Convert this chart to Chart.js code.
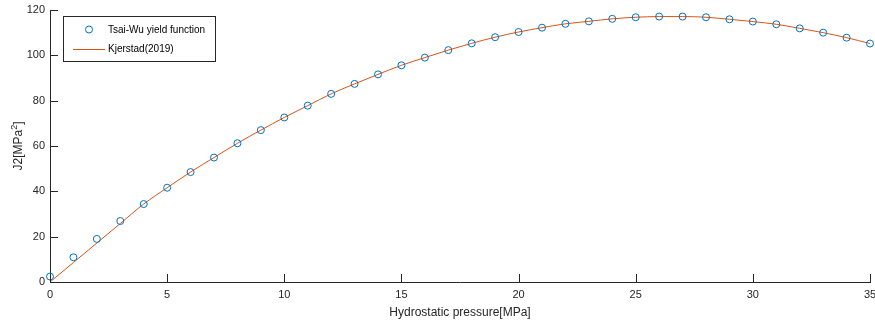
<!DOCTYPE html>
<html>
<head>
<meta charset="utf-8">
<script src="https://cdn.jsdelivr.net/npm/chart.js@4"></script>
<style>
  html, body { margin: 0; padding: 0; background: #fff; }
  #wrap { width: 875px; height: 322px; }
</style>
</head>
<body>
<div id="wrap"><canvas id="myChart" width="875" height="322"></canvas></div>
<script>
// hydrostatic pressure [MPa]
const pressure = [0, 1, 2, 3, 4, 5, 6, 7, 8, 9, 10, 11, 12, 13, 14, 15, 16, 17,
    18, 19, 20, 21, 22, 23, 24, 25, 26, 27, 28, 29, 30, 31, 32, 33, 34, 35];

// Tsai-Wu yield function, J2 [MPa^2]
const tsaiWu = [2.4, 10.9, 19.0, 26.9, 34.4, 41.6, 48.5, 54.9, 61.2, 67.0, 72.6, 77.8,
    83.0, 87.4, 91.6, 95.6, 99.0, 102.3, 105.3, 108.0, 110.3, 112.2, 113.9, 115.0,
    116.1, 116.8, 117.1, 117.1, 116.8, 115.9, 114.9, 113.7, 111.9, 110.0, 107.8, 105.2];

// Kjerstad(2019)
const kjerstad = [0, 8.6, 17.2, 25.8, 34.4, 41.6, 48.5, 54.9, 61.2, 67.0, 72.6, 77.8,
    83.0, 87.4, 91.6, 95.6, 99.0, 102.3, 105.3, 108.0, 110.3, 112.2, 113.9, 115.0,
    116.1, 116.8, 117.1, 117.1, 116.8, 115.9, 114.9, 113.7, 111.9, 110.0, 107.8, 105.2];

const xTicks = [0, 5, 10, 15, 20, 25, 30, 35];
const yTicks = [0, 20, 40, 60, 80, 100, 120];

const textColor = '#262626';
const fontFamily = '"Liberation Sans", Arial, Helvetica, sans-serif';

function toPoints(xs, ys) {
    let pts = [];
    for (let i = 0; i < xs.length; i++) {
        pts.push({ x: xs[i], y: ys[i] });
    }
    return pts;
}

// inward tick marks, y label with superscript, boxed legend
const matlabAxes = {
    id: 'matlabAxes',
    afterDraw(chart) {
        const ctx = chart.ctx;
        const xs = chart.scales.x;
        const ys = chart.scales.y;
        const area = chart.chartArea;

        ctx.save();
        ctx.strokeStyle = textColor;
        ctx.lineWidth = 1;
        ctx.beginPath();
        xTicks.forEach(v => {
            const px = Math.round(xs.getPixelForValue(v)) + 0.5;
            ctx.moveTo(px, area.bottom);
            ctx.lineTo(px, area.bottom - 8);
        });
        yTicks.forEach(v => {
            const py = Math.round(ys.getPixelForValue(v)) + 0.5;
            ctx.moveTo(area.left, py);
            ctx.lineTo(area.left + 8, py);
        });
        ctx.stroke();

        // y axis title: J2[MPa^2]
        ctx.fillStyle = textColor;
        ctx.translate(22, (area.top + area.bottom) / 2);
        ctx.rotate(-Math.PI / 2);
        ctx.textBaseline = 'alphabetic';
        const base = 'J2[MPa';
        ctx.font = '12px ' + fontFamily;
        const wBase = ctx.measureText(base).width;
        ctx.font = '9px ' + fontFamily;
        const wSup = ctx.measureText('2').width;
        ctx.font = '12px ' + fontFamily;
        const wEnd = ctx.measureText(']').width;
        let x0 = -(wBase + wSup + wEnd) / 2;
        ctx.textAlign = 'left';
        ctx.fillText(base, x0, 0);
        ctx.font = '9px ' + fontFamily;
        ctx.fillText('2', x0 + wBase, -5);
        ctx.font = '12px ' + fontFamily;
        ctx.fillText(']', x0 + wBase + wSup, 0);
        ctx.restore();

        // legend box
        const ds = chart.data.datasets;
        const bx = 63.5, by = 16.5, bw = 152, bh = 45;
        ctx.save();
        ctx.fillStyle = '#ffffff';
        ctx.fillRect(bx, by, bw, bh);
        ctx.strokeStyle = textColor;
        ctx.lineWidth = 1;
        ctx.strokeRect(bx, by, bw, bh);

        ctx.font = '10px ' + fontFamily;
        ctx.fillStyle = '#000000';
        ctx.textBaseline = 'middle';
        ctx.textAlign = 'left';

        // marker entry
        ctx.beginPath();
        ctx.strokeStyle = ds[0].borderColor;
        ctx.lineWidth = 1;
        ctx.arc(89, 29.5, 3.5, 0, Math.PI * 2);
        ctx.stroke();
        ctx.fillText(ds[0].label, 108, 30);

        // line entry
        ctx.beginPath();
        ctx.strokeStyle = ds[1].borderColor;
        ctx.moveTo(73, 49.5);
        ctx.lineTo(105, 49.5);
        ctx.stroke();
        ctx.fillText(ds[1].label, 108, 49.5);
        ctx.restore();
    }
};

const ctx = document.getElementById('myChart').getContext('2d');
const myChart = new Chart(ctx, {
    type: 'scatter',
    data: {
        datasets: [{
            label: 'Tsai-Wu yield function',
            data: toPoints(pressure, tsaiWu),
            showLine: false,
            pointStyle: 'circle',
            pointRadius: 3.5,
            pointBorderWidth: 1,
            borderColor: '#0072BD',
            backgroundColor: 'rgba(0,0,0,0)',
            clip: false,
            order: 0
        }, {
            label: 'Kjerstad(2019)',
            data: toPoints(pressure, kjerstad),
            showLine: true,
            pointRadius: 0,
            borderWidth: 1,
            borderColor: '#D95319',
            backgroundColor: '#D95319',
            cubicInterpolationMode: 'monotone',
            clip: false,
            order: 1
        }]
    },
    options: {
        responsive: false,
        animation: false,
        devicePixelRatio: 1,
        layout: { padding: { top: 10, right: 3, left: 0, bottom: 0 } },
        plugins: {
            legend: { display: false },
            tooltip: { enabled: false }
        },
        scales: {
            x: {
                type: 'linear',
                min: 0,
                max: 35,
                afterBuildTicks: s => { s.ticks = xTicks.map(v => ({ value: v })); },
                afterFit: s => { s.height = 40; s.paddingLeft = 0; s.paddingRight = 0; },
                grid: { display: false, drawTicks: false },
                border: { display: true, color: textColor, width: 1 },
                ticks: {
                    color: textColor,
                    padding: 6,
                    maxRotation: 0,
                    font: { size: 11, family: fontFamily }
                },
                title: {
                    display: true,
                    text: 'Hydrostatic pressure[MPa]',
                    color: textColor,
                    padding: { top: 0, bottom: 2 },
                    font: { size: 12, family: fontFamily }
                }
            },
            y: {
                type: 'linear',
                min: 0,
                max: 120,
                afterBuildTicks: s => { s.ticks = yTicks.map(v => ({ value: v })); },
                afterFit: s => { s.width = 50; s.paddingTop = 0; s.paddingBottom = 0; },
                grid: { display: false, drawTicks: false },
                border: { display: true, color: textColor, width: 1 },
                ticks: {
                    color: textColor,
                    padding: 5,
                    font: { size: 11, family: fontFamily }
                }
            }
        }
    },
    plugins: [matlabAxes]
});
</script>
</body>
</html>
